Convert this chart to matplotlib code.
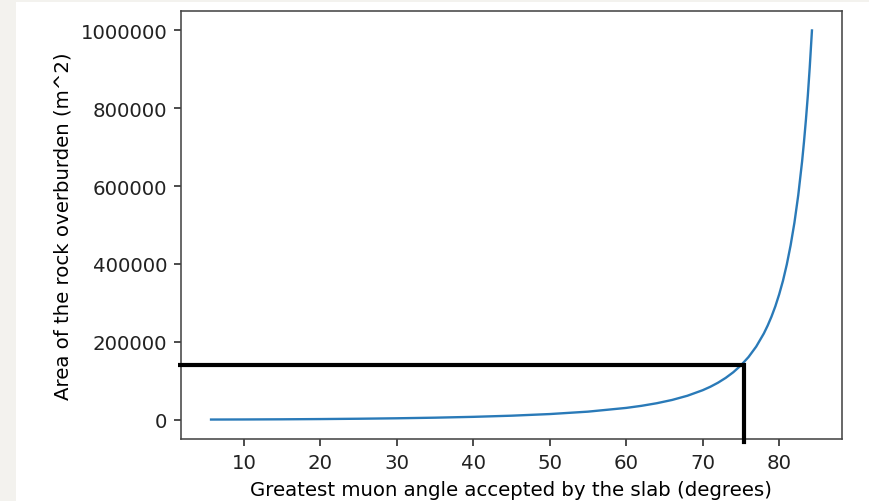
import matplotlib
matplotlib.use("Agg")
import matplotlib.pyplot as plt
from matplotlib.patches import Rectangle

# Data
angles_deg = [5.71, 10, 15, 20, 25, 30, 35, 40, 45, 50, 55, 60, 62, 64, 66, 68,
              70, 71, 72, 73, 74, 75, 76, 77, 78, 78.5, 79, 79.5, 80, 80.5, 81,
              81.5, 82, 82.5, 83, 83.25, 83.5, 83.75, 84, 84.29]
area_m2 = [100, 311, 718, 1325, 2174, 3333, 4903, 7041, 10000, 14203, 20396,
           30000, 35371, 42037, 50447, 61261, 75486, 84340, 94721, 107020,
           121619, 139282, 160865, 187616, 221335, 241660, 264666, 291010,
           321634, 356790, 398636, 447990, 506290, 576957, 663299, 714180,
           770343, 832590, 905237, 1000000]

# Hand-drawn marker lines (cut-off angle and area)
cutoff_angle = 75.35
cutoff_area = 141000
xticks = [10, 20, 30, 40, 50, 60, 70, 80]
yticks = [0, 200000, 400000, 600000, 800000, 1000000]

s = 1.42
plt.rcParams.update({
    "font.family": "DejaVu Sans",
    "font.size": 10 * s,
    "axes.linewidth": 0.8 * s,
    "xtick.major.size": 3.5 * s,
    "ytick.major.size": 3.5 * s,
    "xtick.major.width": 0.8 * s,
    "ytick.major.width": 0.8 * s,
    "xtick.major.pad": 3.5 * s,
    "ytick.major.pad": 3.5 * s,
    "axes.labelpad": 4 * s,
})

W, H = 869, 502
fig = plt.figure(figsize=(W / 100, H / 100), dpi=100, facecolor="#f3f2ee")
fig.patches.append(Rectangle((16 / W, 0), 1 - 16 / W, 1 - 3 / H,
                             transform=fig.transFigure, facecolor="white",
                             edgecolor="none", zorder=-10))
ax = fig.add_axes([181 / W, 1 - 440 / H, (842 - 181) / W, (440 - 12) / H])

ax.plot(angles_deg, area_m2, color="#2a7ab8", lw=1.7)
ax.set_xticks(xticks)
ax.set_yticks(yticks)
ax.ticklabel_format(style="plain", axis="y")
ax.set_xlabel("Greatest muon angle accepted by the slab (degrees)")
ax.set_ylabel("Area of the rock overburden (m^2)")
for sp in ax.spines.values():
    sp.set_color("#444444")
ax.tick_params(colors="#222222")

xmin, xmax = ax.get_xlim()
ymin, ymax = ax.get_ylim()
ax.plot([xmin - 0.4, cutoff_angle], [cutoff_area, cutoff_area], color="black",
        lw=3, clip_on=False, scalex=False, scaley=False, solid_capstyle="butt", zorder=5)
ax.plot([cutoff_angle, cutoff_angle], [cutoff_area, ymin - 8000], color="black",
        lw=3, clip_on=False, scalex=False, scaley=False, solid_capstyle="projecting", zorder=5)
ax.set_xlim(xmin, xmax)
ax.set_ylim(ymin, ymax)

fig.savefig("out.png", dpi=100, facecolor=fig.get_facecolor())
